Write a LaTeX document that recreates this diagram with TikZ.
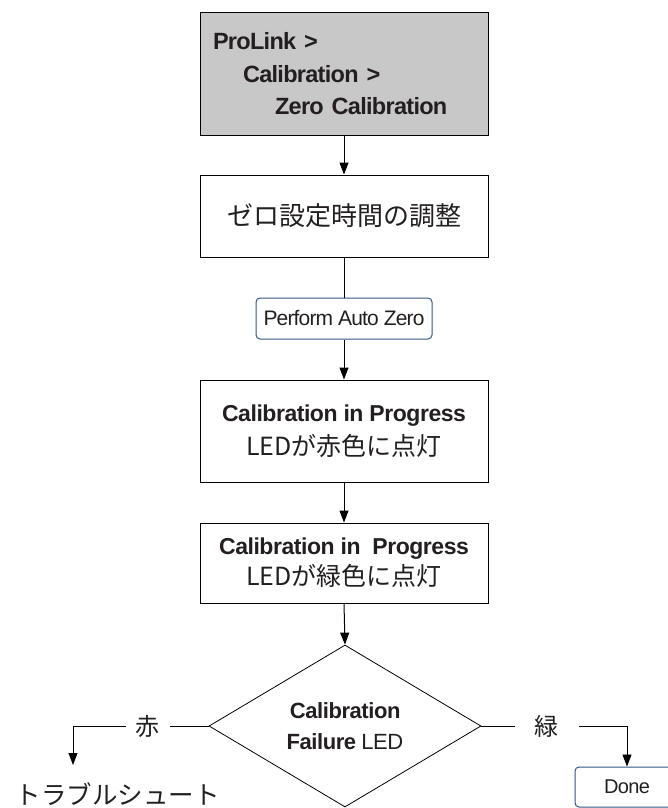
\documentclass[tikz,border=0pt]{standalone}
\usepackage{fontspec}
\setmainfont{Liberation Sans}
\newfontfamily\jpfont{Noto Sans CJK JP}
\usetikzlibrary{shapes.geometric,arrows.meta}
\definecolor{boxgray}{RGB}{200,200,200}
\definecolor{btnblue}{RGB}{52,84,130}
\definecolor{inkblack}{RGB}{35,31,32}
\newcommand{\tightfont}[1]{\addfontfeatures{LetterSpace=#1}}

\begin{document}
\begin{tikzpicture}[x = 1pt, y = -1pt, text = inkblack,
		box/.style = {draw, line width = 1pt, minimum width = 288pt, inner sep = 0pt, align = center},
		btn/.style = {draw = btnblue, line width = 1pt, rounded corners = 4pt, inner sep = 0pt},
		arr/.style = {-{Triangle[length = 12pt, width = 9pt]}, line width = 1pt},
		lbl/.style = {fill = white, inner ysep = 2pt, font = \fontsize{24}{26}\jpfont}]
	\useasboundingbox (0,0) rectangle (668,808);
	% menu path
	\node[box, fill = boxgray, minimum height = 122pt, text width = 262pt, inner xsep = 13pt, align = left,
		font = \fontsize{23.5}{32.5}\selectfont\bfseries\tightfont{-3}] (prolink) at (344,74)
		{ProLink >\\\hspace*{30pt}Calibration >\\\hspace*{62pt}Zero Calibration};
	\node[box, minimum height = 82pt, font = \fontsize{26}{28}\jpfont] (zeroset) at (344,216) {ゼロ設定時間の調整};
	\node[btn, minimum width = 176pt, minimum height = 41pt, font = \fontsize{21}{24}\selectfont\tightfont{-4}] (autozero) at (344,318.5) {Perform Auto Zero};
	% progress boxes
	\node[box, minimum height = 102pt, font = \fontsize{23}{28}\selectfont\tightfont{-2}] (progred) at (344,431)
		{\bfseries Calibration in Progress\\[6pt]
		 \fontsize{25}{28}\jpfont LEDが赤色に点灯};
	\node[box, minimum height = 80pt, font = \fontsize{23}{28}\selectfont\tightfont{-2}] (proggreen) at (344,563)
		{\bfseries Calibration in\ \ Progress\\[3pt]
		 \fontsize{25}{28}\jpfont LEDが緑色に点灯};
	% decision
	\node[diamond, draw, line width = .8pt, aspect = 1.68, minimum width = 272pt, minimum height = 162pt,
		inner sep = 0pt, align = center, font = \fontsize{22}{31}\selectfont\tightfont{-2}] (failled) at (345,726)
		{\textbf{Calibration}\\\textbf{Failure} LED};
	\node[inner sep = 0pt, font = \fontsize{25.5}{28}\jpfont] (trouble) at (118,794) {トラブルシュート};
	\node[btn, minimum width = 104pt, minimum height = 40pt, font = \fontsize{20}{22}\selectfont\tightfont{-3}] (done) at (627,787) {Done};
	\coordinate (redcorner) at (73,726);
	\coordinate (redend) at (73,765);
	\coordinate (greencorner) at (627,726);

	\draw[arr] (prolink.south) -- (zeroset.north);
	\draw[line width = 1pt] (zeroset.south) -- (autozero.north);
	\draw[arr] (autozero.south) -- (progred.north);
	\draw[arr] (progred.south) -- (proggreen.north);
	\draw[arr] (proggreen.south) -- (failled.north);
	\draw[line width = .8pt] (failled.west) -- node[lbl, pos = .45, inner xsep = 10pt] {赤} (redcorner); % red branch
	\draw[arr, line width = .8pt] (redcorner) -- (redend);
	\draw[line width = .8pt] (failled.east) -- node[lbl, pos = .45, inner xsep = 20pt] {緑} (greencorner); % green branch
	\draw[arr, line width = .8pt] (greencorner) -- (done.north);
\end{tikzpicture}
\end{document}
